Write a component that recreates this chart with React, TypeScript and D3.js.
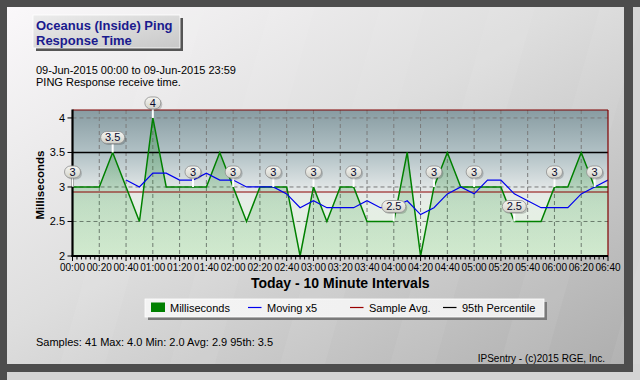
import React from "react";
import * as d3 from "d3";

const milliseconds: number[] = [3, 3, 3, 3.5, 3, 2.5, 4, 3, 3, 3, 3, 3.5, 3, 2.5, 3, 3, 3, 2, 3, 2.5, 3, 3, 2.5, 2.5, 2.5, 3.5, 2, 3, 3.5, 3, 3, 3, 3, 2.5, 2.5, 2.5, 3, 3, 3.5, 3, 3];
const movingX5: (number | null)[] = [null, null, null, null, 3.1, 3.0, 3.2, 3.2, 3.1, 3.1, 3.2, 3.1, 3.1, 3.0, 3.0, 3.0, 2.9, 2.7, 2.8, 2.7, 2.7, 2.7, 2.8, 2.7, 2.7, 2.8, 2.6, 2.7, 2.9, 3.0, 2.9, 3.1, 3.1, 2.9, 2.8, 2.7, 2.7, 2.7, 2.9, 3.0, 3.1];
const labelIndices: number[] = [0, 3, 6, 9, 12, 15, 18, 21, 24, 27, 30, 33, 36, 39];
const sampleAvg = 2.927;
const percentile95 = 3.5;
const xTickLabels: string[] = ["00:00", "00:20", "00:40", "01:00", "01:20", "01:40", "02:00", "02:20", "02:40", "03:00", "03:20", "03:40", "04:00", "04:20", "04:40", "05:00", "05:20", "05:40", "06:00", "06:20", "06:40"];
const yTicks: number[] = [2, 2.5, 3, 3.5, 4];
const yTickLabels: string[] = ["2", "2.5", "3", "3.5", "4"];
const yGrid: number[] = [2.5, 3, 4];
const legendItems = [
  { label: "Milliseconds", color: "#008000", kind: "box" },
  { label: "Moving x5", color: "#0000ee", kind: "line" },
  { label: "Sample Avg.", color: "#990000", kind: "line" },
  { label: "95th Percentile", color: "#000000", kind: "line" },
];

const FONT = "Arial, 'Liberation Sans', sans-serif";

export default function App() {
  const left = 72.5, right = 608, top = 110, bottom = 256;
  const x = d3.scaleLinear().domain([0, milliseconds.length - 1]).range([left, right]);
  const y = d3.scaleLinear().domain([2, 4.115]).range([bottom, top]);
  const xMajor = d3.scaleLinear().domain([0, xTickLabels.length - 1]).range([left, right]);

  const line = d3.line<number>().x((_, i) => x(i)).y((d) => y(d));
  const area = d3.area<number>().x((_, i) => x(i)).y0(bottom).y1((d) => y(d));
  const maLine = d3
    .line<number | null>()
    .defined((d) => d !== null)
    .x((_, i) => x(i))
    .y((d) => y(d as number));

  const minorTicks = d3.range(0, (xTickLabels.length - 1) * 6 + 1).map((k) => left + ((right - left) * k) / ((xTickLabels.length - 1) * 6));

  const legendX = [151, 248, 350, 443];

  const stripes = [0, 1, 2, 3, 4, 5, 6];

  return (
    <svg width={640} height={380} style={{ position: "absolute", left: 0, top: 0 }} fontFamily={FONT}>
      <defs>
        <linearGradient id="panelG" x1="0" y1="0" x2="1" y2="1">
          <stop offset="0" stopColor="#faf8fa" />
          <stop offset="0.45" stopColor="#dedede" />
          <stop offset="1" stopColor="#aeaeae" />
        </linearGradient>
        <linearGradient id="plotG" x1="0" y1="0" x2="0" y2="1">
          <stop offset="0" stopColor="#889ca2" />
          <stop offset="0.3" stopColor="#b2c2c6" />
          <stop offset="0.55" stopColor="#e4e8e8" />
          <stop offset="0.65" stopColor="#e6eee6" />
          <stop offset="1" stopColor="#e2f2de" />
        </linearGradient>
        <linearGradient id="fillG" x1="0" y1="0" x2="0" y2="1">
          <stop offset="0" stopColor="#0a7a1a" stopOpacity="0.3" />
          <stop offset="0.5" stopColor="#0a8a1a" stopOpacity="0.2" />
          <stop offset="1" stopColor="#0a8a1a" stopOpacity="0.08" />
        </linearGradient>
        <linearGradient id="titleG" x1="0" y1="0" x2="1" y2="1">
          <stop offset="0" stopColor="#ececec" />
          <stop offset="1" stopColor="#c8c8c8" />
        </linearGradient>
        <linearGradient id="pillG" x1="0" y1="0" x2="0" y2="1">
          <stop offset="0" stopColor="#f6f6f2" />
          <stop offset="1" stopColor="#d2d2ca" />
        </linearGradient>
        <linearGradient id="legendG" x1="0" y1="0" x2="1" y2="0">
          <stop offset="0" stopColor="#f4f4f4" />
          <stop offset="1" stopColor="#eeeeee" />
        </linearGradient>
        <clipPath id="plotClip">
          <rect x={left} y={top} width={right - left} height={bottom - top} />
        </clipPath>
      </defs>

      {/* outer frame */}
      <rect x={0} y={0} width={640} height={380} fill="#d4d4d4" />
      <rect x={0} y={0} width={633} height={372} fill="#4d4d4d" />
      <rect x={0} y={0} width={640} height={7} fill="#4d4d4d" />
      <rect x={0} y={0} width={7} height={380} fill="#4d4d4d" />

      {/* panel */}
      <rect x={7} y={7} width={617} height={357} fill="url(#panelG)" />
      <g clipPath="none">
        {stripes.map((s) => (
          <polygon
            key={s}
            points={`${60 + s * 110},364 ${160 + s * 110},7 ${205 + s * 110},7 ${105 + s * 110},364`}
            fill="#ffffff"
            opacity={0.06}
          />
        ))}
      </g>
      <rect x={624} y={7} width={9} height={365} fill="#4d4d4d" />
      <rect x={7} y={364} width={626} height={8} fill="#4d4d4d" />

      {/* title box */}
      <rect x={36} y={18} width={147} height={33} fill="#555" />
      <rect x={33} y={15} width={147} height={33} fill="url(#titleG)" stroke="#ffffff" strokeWidth={0.8} />
      <text x={36} y={30} fontSize={13} fontWeight="bold" fill="#1a1a8e">Oceanus (Inside) Ping</text>
      <text x={36} y={45} fontSize={13} fontWeight="bold" fill="#1a1a8e">Response Time</text>

      <text x={36} y={74} fontSize={11} fill="#000">09-Jun-2015 00:00 to 09-Jun-2015 23:59</text>
      <text x={36} y={86} fontSize={11} fill="#000">PING Response receive time.</text>

      {/* plot area */}
      <rect x={left} y={top} width={right - left} height={bottom - top} fill="url(#plotG)" />
      <g clipPath="url(#plotClip)">
        {yGrid.map((v) => (
          <line key={v} x1={left} x2={right} y1={y(v)} y2={y(v)} stroke="#7a7a7a" strokeDasharray="4,3" strokeWidth={1} />
        ))}
        {xTickLabels.map((_, i) =>
          i > 0 && i < xTickLabels.length - 1 ? (
            <line key={i} x1={xMajor(i)} x2={xMajor(i)} y1={top} y2={bottom} stroke="#7a7a7a" strokeDasharray="4,3" strokeWidth={1} />
          ) : null
        )}
        <path d={area(milliseconds) || ""} fill="url(#fillG)" />
        <line x1={left} x2={right} y1={y(sampleAvg)} y2={y(sampleAvg)} stroke="#8b0000" strokeWidth={1.2} />
        <line x1={left} x2={right} y1={y(percentile95)} y2={y(percentile95)} stroke="#000" strokeWidth={1.4} />
        <path d={line(milliseconds) || ""} fill="none" stroke="#008000" strokeWidth={1.5} />
        <path d={maLine(movingX5) || ""} fill="none" stroke="#0000ee" strokeWidth={1.2} />
      </g>

      {/* borders */}
      <line x1={left} x2={right} y1={top} y2={top} stroke="#800000" strokeWidth={1.2} />
      <line x1={right} x2={right} y1={top} y2={bottom} stroke="#800000" strokeWidth={1.2} />
      <line x1={left} x2={left} y1={top - 0.5} y2={bottom + 1} stroke="#000" strokeWidth={2.2} />
      <line x1={left - 1} x2={right} y1={bottom} y2={bottom} stroke="#000" strokeWidth={2.2} />

      {/* value labels */}
      {labelIndices.map((i) => {
        const v = milliseconds[i];
        const txt = Number.isInteger(v) ? String(v) : v.toFixed(1);
        const w = txt.length === 1 ? 16 : 24;
        const cx = x(i);
        const cy = y(v) - 15;
        return (
          <g key={i}>
            <line x1={cx} x2={cx} y1={y(v)} y2={cy + 6} stroke="#ffffff" strokeWidth={2} />
            <rect x={cx - w / 2 + 1.5} y={cy - 6 + 1.5} width={w} height={12} rx={6} fill="#000" opacity={0.18} />
            <rect x={cx - w / 2} y={cy - 6} width={w} height={12} rx={6} fill="url(#pillG)" stroke="#8e8e8e" strokeWidth={0.8} />
            <text x={cx} y={cy + 4} fontSize={11} textAnchor="middle" fill="#0a0a30">{txt}</text>
          </g>
        );
      })}

      {/* y axis */}
      {yTicks.map((v, i) => (
        <g key={v}>
          <line x1={left - 5} x2={left} y1={y(v)} y2={y(v)} stroke="#000" strokeWidth={1} />
          <text x={65} y={y(v) + 4} fontSize={11} textAnchor="end" fill="#000">{yTickLabels[i]}</text>
        </g>
      ))}
      <text transform={`translate(44, ${(top + bottom) / 2 + 2}) rotate(-90)`} fontSize={11.5} fontWeight="bold" textAnchor="middle" fill="#000">Milliseconds</text>

      {/* x axis */}
      {minorTicks.map((px, k) => (
        <line key={k} x1={px} x2={px} y1={bottom} y2={bottom + (k % 6 === 0 ? 5 : 3.5)} stroke="#000" strokeWidth={1} />
      ))}
      {xTickLabels.map((lab, i) => (
        <text key={lab} x={xMajor(i)} y={271} fontSize={10} textAnchor="middle" fill="#000">{lab}</text>
      ))}
      <text x={(left + right) / 2} y={288} fontSize={14} fontWeight="bold" textAnchor="middle" fill="#000">Today - 10 Minute Intervals</text>

      {/* legend */}
      <rect x={148} y={302} width={399} height={18} fill="#7a7a7a" />
      <rect x={145} y={299} width={399} height={18} fill="url(#legendG)" stroke="#ffffff" strokeWidth={0.8} />
      {legendItems.map((it, i) => (
        <g key={it.label}>
          {it.kind === "box" ? (
            <rect x={legendX[i]} y={302.5} width={14} height={9.5} fill={it.color} />
          ) : (
            <line x1={legendX[i]} x2={legendX[i] + 13.5} y1={307.5} y2={307.5} stroke={it.color} strokeWidth={1.2} />
          )}
          <text x={legendX[i] + 19} y={311.5} fontSize={11} fill="#000">{it.label}</text>
        </g>
      ))}

      <text x={36} y={345.5} fontSize={11} fill="#000">Samples: 41 Max: 4.0 Min: 2.0 Avg: 2.9 95th: 3.5</text>
      <text x={605} y={362} fontSize={10} textAnchor="end" fill="#000">IPSentry - (c)2015 RGE, Inc.</text>
    </svg>
  );
}
